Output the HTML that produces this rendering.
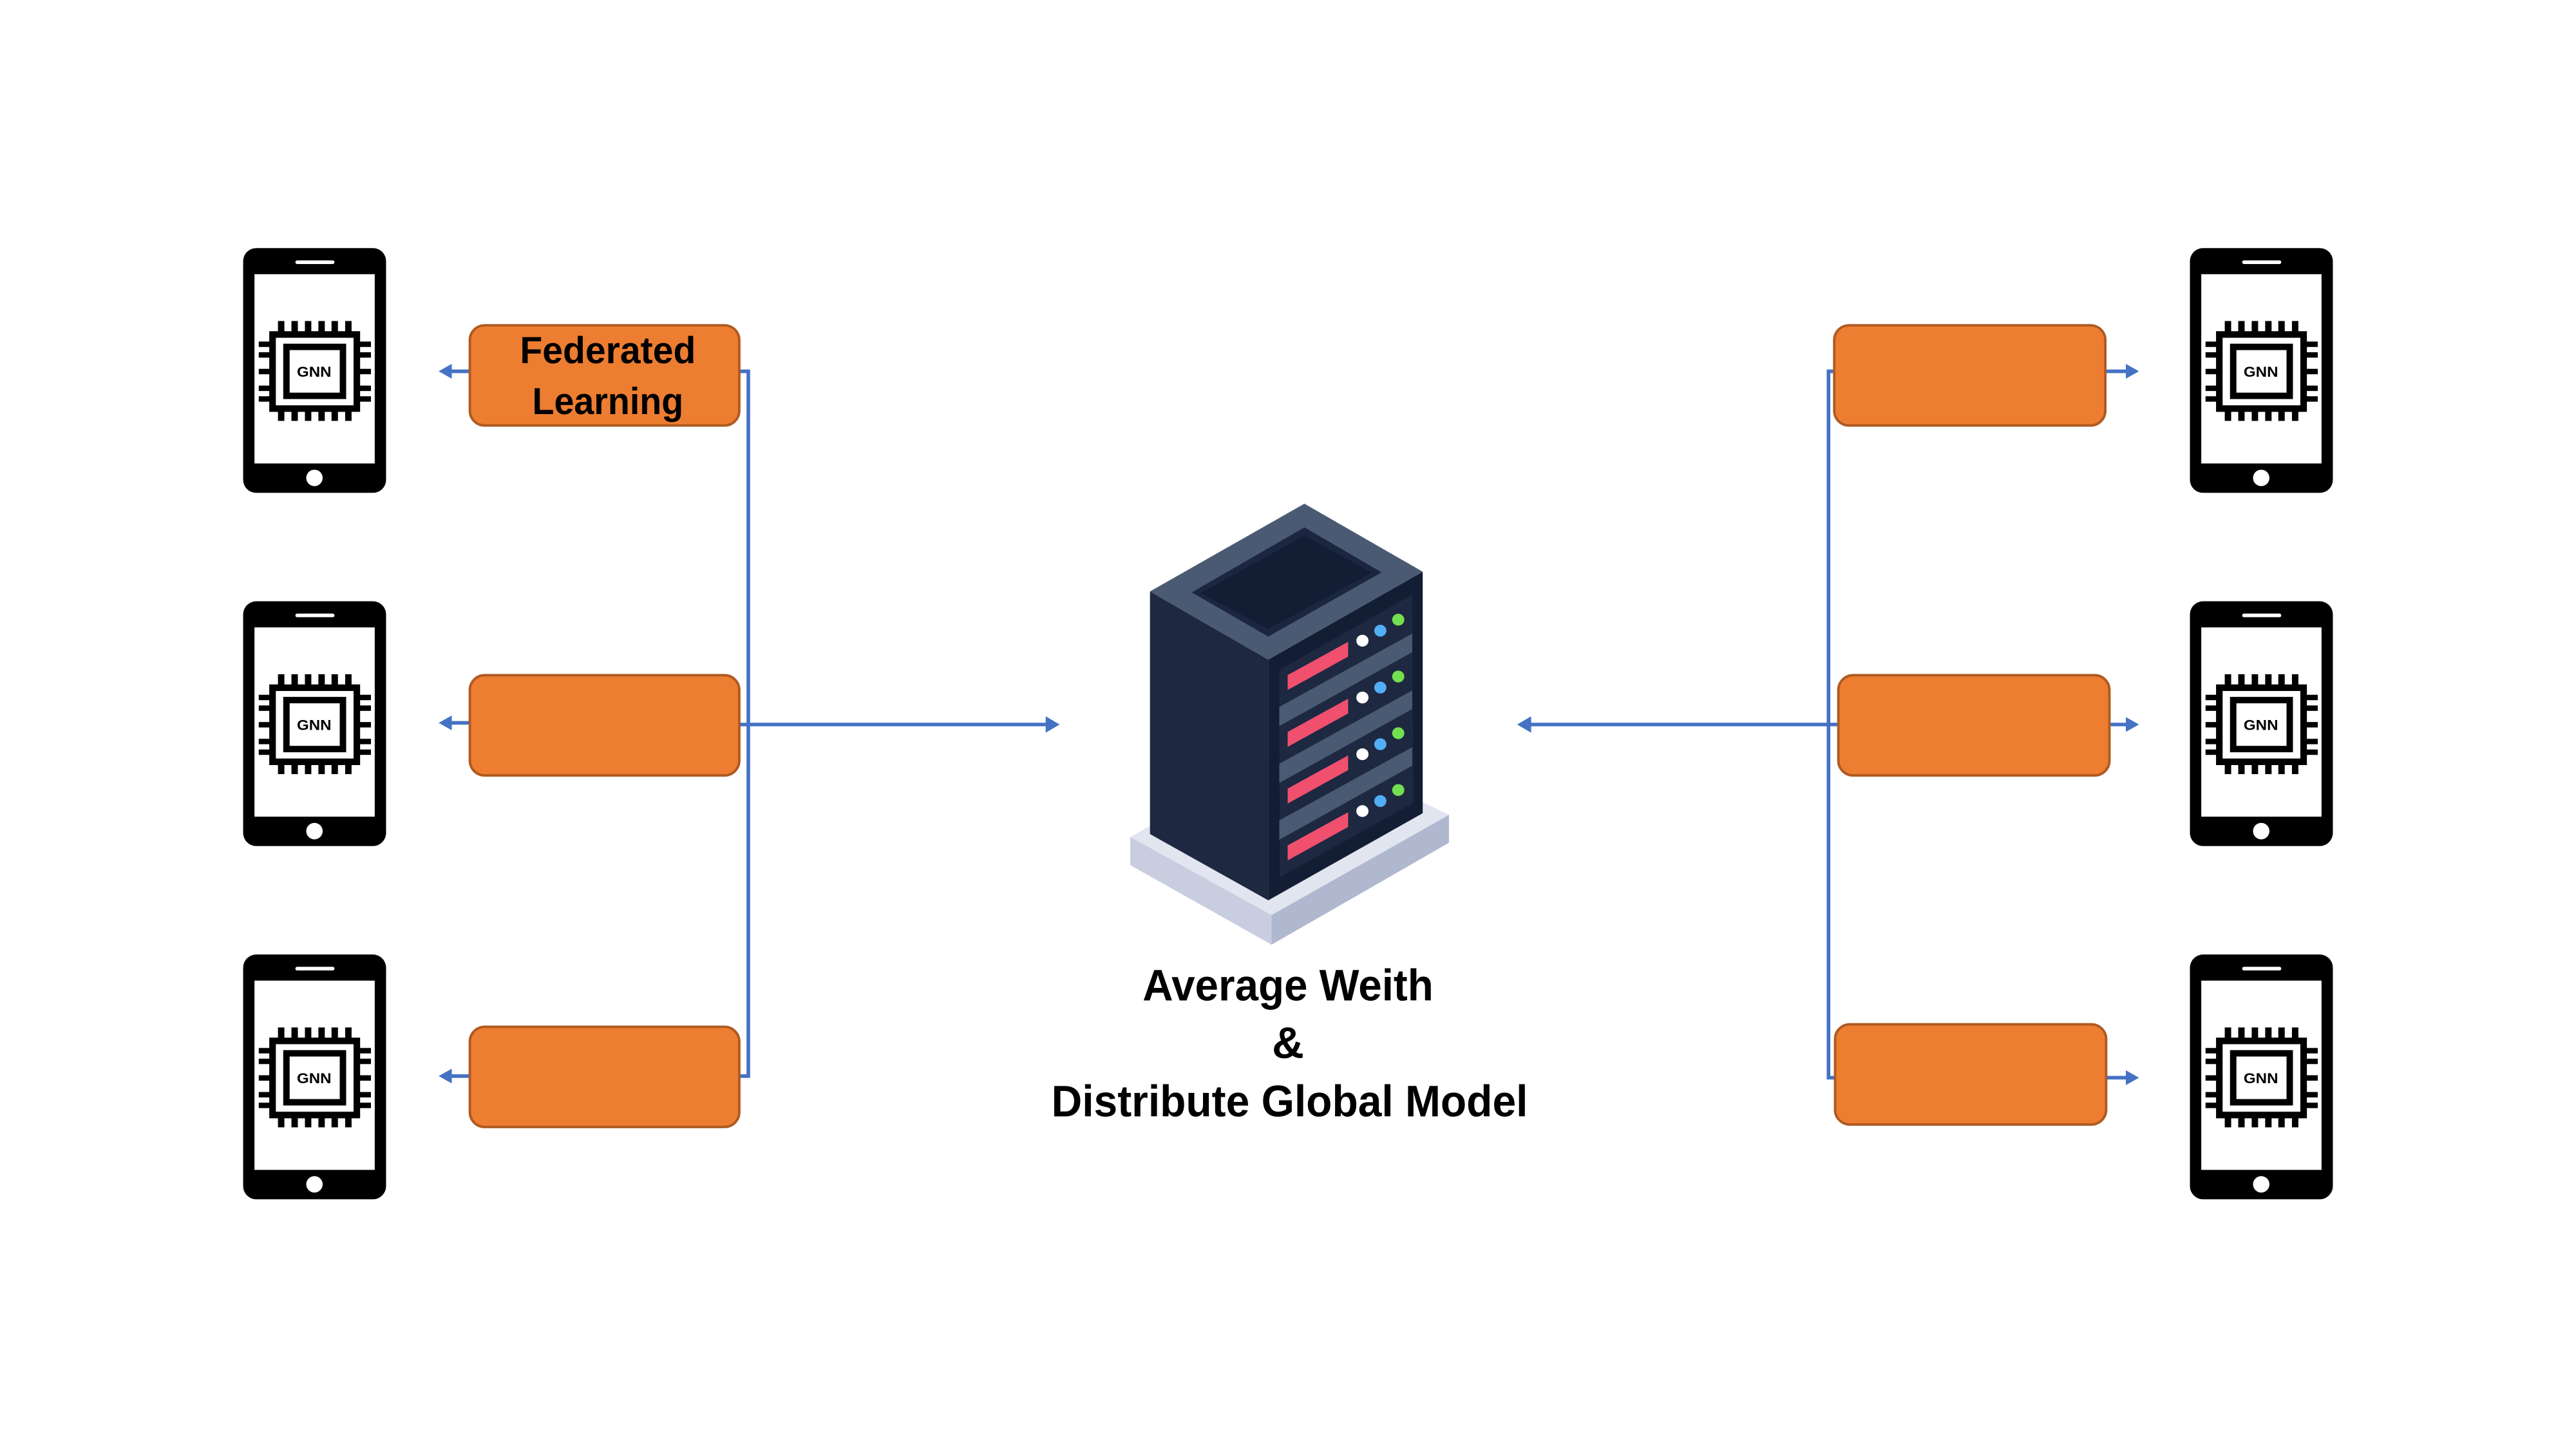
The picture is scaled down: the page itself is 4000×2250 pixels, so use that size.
<!DOCTYPE html>
<html><head><meta charset="utf-8"><style>html,body{margin:0;padding:0;background:#fff}svg{display:block}</style></head>
<body>
<svg width="4000" height="2250" viewBox="0 0 1568 882" xmlns="http://www.w3.org/2000/svg">
<defs>
<g id="phone">
  <rect x="0" y="0" width="87" height="149" rx="8" fill="#000"/>
  <rect x="6.9" y="15.9" width="73.2" height="115.2" fill="#fff"/>
  <rect x="31.8" y="7.5" width="23.8" height="2.2" rx="1.1" fill="#fff"/>
  <circle cx="43.4" cy="139.9" r="5" fill="#fff"/>
  <rect x="17.9" y="52.6" width="51.3" height="45.1" fill="none" stroke="#000" stroke-width="4"/>
  <rect x="26.35" y="60.15" width="34.4" height="29.8" fill="none" stroke="#000" stroke-width="3.9"/>
  <g fill="#000">
    <rect x="21.2" y="44.4" width="3.9" height="6.5"/><rect x="29.4" y="44.4" width="3.9" height="6.5"/><rect x="37.6" y="44.4" width="3.9" height="6.5"/><rect x="45.8" y="44.4" width="3.9" height="6.5"/><rect x="53.8" y="44.4" width="3.9" height="6.5"/><rect x="62.1" y="44.4" width="3.9" height="6.5"/>
    <rect x="21.2" y="99.4" width="3.9" height="5.8"/><rect x="29.4" y="99.4" width="3.9" height="5.8"/><rect x="37.6" y="99.4" width="3.9" height="5.8"/><rect x="45.8" y="99.4" width="3.9" height="5.8"/><rect x="53.8" y="99.4" width="3.9" height="5.8"/><rect x="62.1" y="99.4" width="3.9" height="5.8"/>
    <rect x="9.5" y="56.9" width="6.8" height="3.3"/><rect x="9.5" y="63.4" width="6.8" height="3.3"/><rect x="9.5" y="73.5" width="6.8" height="3.3"/><rect x="9.5" y="83.7" width="6.8" height="3.3"/><rect x="9.5" y="90.2" width="6.8" height="3.3"/>
    <rect x="70.8" y="56.9" width="7" height="3.3"/><rect x="70.8" y="63.4" width="7" height="3.3"/><rect x="70.8" y="73.5" width="7" height="3.3"/><rect x="70.8" y="83.7" width="7" height="3.3"/><rect x="70.8" y="90.2" width="7" height="3.3"/>
  </g>
  <text x="43.2" y="78.4" font-family="Liberation Sans, sans-serif" font-weight="bold" font-size="8.6" text-anchor="middle" textLength="21" lengthAdjust="spacingAndGlyphs">GNN</text>
</g>
</defs>

<!-- phones -->
<use href="#phone" x="148" y="151"/>
<use href="#phone" x="148" y="366"/>
<use href="#phone" x="148" y="581"/>
<use href="#phone" x="1333" y="151"/>
<use href="#phone" x="1333" y="366"/>
<use href="#phone" x="1333" y="581"/>

<!-- connectors -->
<g stroke="#4472C4" stroke-width="2.2" fill="none">
  <polyline points="449,226 455.5,226 455.5,655 449,655"/>
  <line x1="449" y1="441" x2="637" y2="441"/>
  <line x1="286" y1="226" x2="274" y2="226"/>
  <line x1="286" y1="440" x2="274" y2="440"/>
  <line x1="286" y1="655" x2="274" y2="655"/>
  <polyline points="1117,226 1113,226 1113,656 1117,656"/>
  <line x1="1119" y1="441" x2="931" y2="441"/>
  <line x1="1281" y1="226" x2="1294" y2="226"/>
  <line x1="1283" y1="441" x2="1294" y2="441"/>
  <line x1="1281" y1="656" x2="1294" y2="656"/>
</g>
<g fill="#4472C4">
  <polygon points="645,441 636.5,436 636.5,446"/>
  <polygon points="923.5,441 932,436 932,446"/>
  <polygon points="267,226 275,221.5 275,230.5"/>
  <polygon points="267,440 275,435.5 275,444.5"/>
  <polygon points="267,655 275,650.5 275,659.5"/>
  <polygon points="1302,226 1294,221.5 1294,230.5"/>
  <polygon points="1302,441 1294,436.5 1294,445.5"/>
  <polygon points="1302,656 1294,651.5 1294,660.5"/>
</g>

<!-- boxes -->
<g fill="#ED7D31" stroke="#AE5A21" stroke-width="1.5">
  <rect x="286" y="198" width="164" height="61" rx="9"/>
  <rect x="286" y="411" width="164" height="61" rx="9"/>
  <rect x="286" y="625" width="164" height="61" rx="9"/>
  <rect x="1116.5" y="198" width="165" height="61" rx="9"/>
  <rect x="1119" y="411" width="165" height="61" rx="9"/>
  <rect x="1117" y="623.5" width="165" height="61" rx="9"/>
</g>
<g font-family="Liberation Sans, sans-serif" font-weight="bold" fill="#000" text-anchor="middle">
  <text x="370" y="221" font-size="23" textLength="107" lengthAdjust="spacingAndGlyphs">Federated</text>
  <text x="370" y="252" font-size="23" textLength="92" lengthAdjust="spacingAndGlyphs">Learning</text>
  <text x="784" y="609" font-size="27" textLength="177" lengthAdjust="spacingAndGlyphs">Average Weith</text>
  <text x="784" y="644" font-size="27">&amp;</text>
  <text x="785" y="679.5" font-size="27" textLength="290" lengthAdjust="spacingAndGlyphs">Distribute Global Model</text>
</g>

<!-- server base -->
<polygon points="688,509.5 790,452 882,496 774,557" fill="#E1E5EF"/>
<polygon points="688,509.5 774,557 774,575 688,526.6" fill="#C8CDE0"/>
<polygon points="774,557 882,496 882,513 774,575" fill="#B0B8D0"/>
<!-- server box -->
<polygon points="700,360 772,401.5 772,548 700,507.7" fill="#1E2841"/>
<polygon points="772,401.5 866,348 866,495 772,548" fill="#131D33"/>
<polygon points="700,360 794,306.6 866,348 772,401.5" fill="#4A5A73"/>
<polygon points="725.4,360.6 794,321 841,348.4 772,387.5" fill="#1C2640"/>
<polygon points="731,361 794,326 835,348.5 772,383" fill="#131D33"/>
<polygon points="778.7,407.8 859.6,362 860.3,488.8 779,534" fill="#1E2841"/>
<g fill="#4A5A73">
  <polygon points="778.7,430.3 859.6,385.7 859.6,397 778.7,442"/>
  <polygon points="778.7,464.9 859.6,420.3 859.6,431.6 778.7,476.6"/>
  <polygon points="778.7,499.4 859.6,454.8 859.6,466.1 778.7,511.1"/>
</g>
<g fill="#F0506E">
  <polygon points="783.8,410.9 820.6,390.7 820.6,399.7 783.8,420"/>
  <polygon points="783.8,445.5 820.6,425.3 820.6,434.3 783.8,454.6"/>
  <polygon points="783.8,480 820.6,459.8 820.6,468.8 783.8,489.1"/>
  <polygon points="783.8,514.6 820.6,494.4 820.6,503.4 783.8,523.7"/>
</g>
<g>
  <ellipse cx="829.3" cy="390" rx="3.7" ry="3.6" fill="#fff"/>
  <ellipse cx="840.2" cy="383.9" rx="3.7" ry="3.6" fill="#52AEF5"/>
  <ellipse cx="851.1" cy="377.2" rx="3.7" ry="3.6" fill="#72E050"/>
  <ellipse cx="829.3" cy="424.6" rx="3.7" ry="3.6" fill="#fff"/>
  <ellipse cx="840.2" cy="418.5" rx="3.7" ry="3.6" fill="#52AEF5"/>
  <ellipse cx="851.1" cy="411.8" rx="3.7" ry="3.6" fill="#72E050"/>
  <ellipse cx="829.3" cy="459.1" rx="3.7" ry="3.6" fill="#fff"/>
  <ellipse cx="840.2" cy="453" rx="3.7" ry="3.6" fill="#52AEF5"/>
  <ellipse cx="851.1" cy="446.3" rx="3.7" ry="3.6" fill="#72E050"/>
  <ellipse cx="829.3" cy="493.7" rx="3.7" ry="3.6" fill="#fff"/>
  <ellipse cx="840.2" cy="487.6" rx="3.7" ry="3.6" fill="#52AEF5"/>
  <ellipse cx="851.1" cy="480.9" rx="3.7" ry="3.6" fill="#72E050"/>
</g>
</svg>
</body></html>
